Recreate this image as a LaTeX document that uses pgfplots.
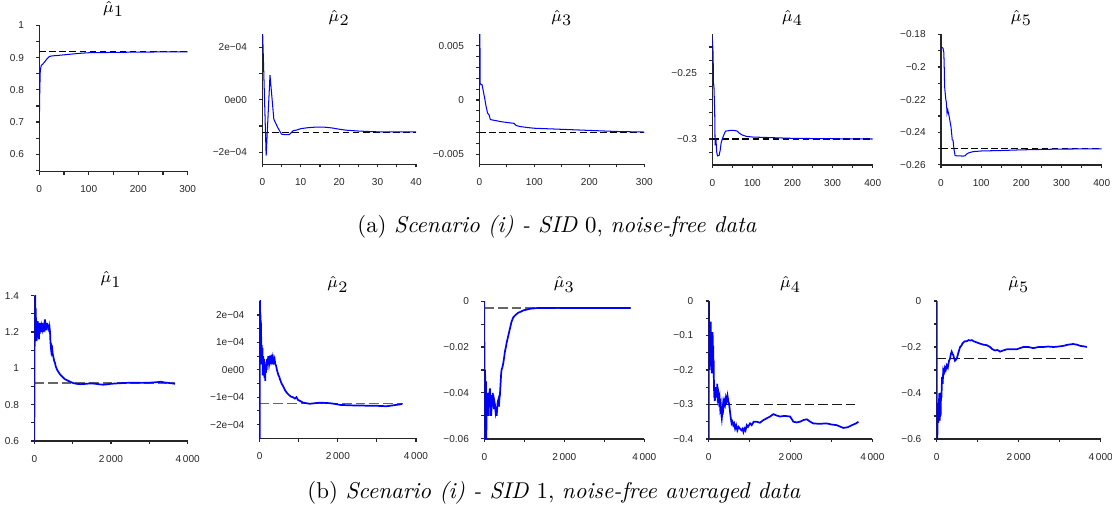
\documentclass[border=0pt]{standalone}
\usepackage{fontspec}
\usepackage{pgfplots}
\pgfplotsset{compat=1.18}
\newfontfamily\hv{Liberation Sans}
\definecolor{rblue}{RGB}{0,0,255}
\pgfplotsset{
 rstyle/.style={
   scale only axis,
   axis x line*=bottom, axis y line*=left,
   axis line style={-, line width=0.5pt, black!85},
   tick align=outside,
   major tick length=1.4pt, minor tick length=1.4pt,
   every tick/.style={black!85, line width=0.5pt},
   tick label style={font=\hv\fontsize{4.4}{5}\selectfont, text=black!85},
   xticklabel style={yshift=-1.3pt},
   yticklabel style={xshift=-1.8pt},
   scaled ticks=false,
   every axis title/.style={font=\fontsize{7}{8}\selectfont, at={(0.5,1)}, anchor=base, yshift=5.8pt},
   anchor=south west,
 },
 bl/.style={rblue, line width=0.45pt},
 bl2/.style={rblue, line width=0.75pt},
 dsh/.style={black, line width=0.45pt, dash pattern=on 2.9pt off 1.5pt},
 dsh2/.style={black!60, line width=0.6pt, dash pattern=on 4.2pt off 1.8pt},
 dsh3/.style={black!90, line width=0.5pt, dash pattern=on 4.2pt off 1.8pt},
}
\begin{document}
\begin{tikzpicture}
\useasboundingbox (0,0) rectangle (486.5pt,-223.125pt);
% ---------------- Row 1 ----------------
\begin{axis}[rstyle, at={(17.19pt,-75.12pt)}, width=64.93pt, height=64.05pt,
  xmin=0, xmax=300, ymin=0.546, ymax=1.0001,
  xtick={0,100,200,300}, xticklabels={0,100,200,300}, minor xtick={50,150,250},
  ytick={0.6,0.7,0.8,0.9,1}, yticklabels={0.6,0.7,0.8,0.9,1}, minor ytick={0.55,0.65,0.75,0.85,0.95},
  title={$\hat{\mu}_{\textstyle 1}$}]
\addplot[dsh] coordinates {(0,0.92) (300,0.92)};
\addplot[bl] coordinates {(0,0.69) (1,0.80) (2,0.86) (4,0.876) (6,0.878) (10,0.885) (15,0.895) (20,0.903) (25,0.905) (40,0.907) (60,0.91) (80,0.913) (100,0.915) (150,0.916) (200,0.917) (250,0.9175) (300,0.918)};
\end{axis}
\begin{axis}[rstyle, at={(114.76pt,-71.88pt)}, width=67.24pt, height=56.88pt,
  xmin=0, xmax=40, ymin=-2.457, ymax=2.495,
  xtick={0,10,20,30,40}, xticklabels={0,10,20,30,40}, minor xtick={5,15,25,35},
  ytick={-2,0,2}, yticklabels={−2e−04,0e00,2e−04}, minor ytick={-1,1},
  title={$\hat{\mu}_{\textstyle 2}$}]
\addplot[dsh] coordinates {(0,-1.24) (40,-1.24)};
\addplot[bl] coordinates {(0,3.0) (1,-2.13) (2,0.94) (3,-0.74) (4,-1.05) (5,-1.31) (6,-1.33) (7,-1.33) (8,-1.18) (9,-1.15) (10,-1.1) (11,-1.08) (12,-1.06) (14,-1.04) (16,-1.04) (18,-1.07) (20,-1.12) (22,-1.16) (25,-1.19) (28,-1.21) (30,-1.22) (35,-1.22) (40,-1.22)};
\end{axis}
\begin{axis}[rstyle, at={(209.69pt,-71.88pt)}, width=72.19pt, height=56.88pt,
  xmin=0, xmax=300, ymin=-5.92, ymax=6.05,
  xtick={0,100,200,300}, xticklabels={0,100,200,300}, minor xtick={50,150,250},
  ytick={-5,0,5}, yticklabels={−0.005,0,0.005}, minor ytick={-4,-3,-2,-1,1,2,3,4},
  title={$\hat{\mu}_{\textstyle 3}$}]
\addplot[dsh] coordinates {(0,-3) (300,-3)};
\addplot[bl] coordinates {(0,-2.2) (1,8) (1.5,1.5) (5,1.4) (7,0.9) (10,0.1) (12,-0.5) (15,-1.2) (18,-1.4) (20,-1.8) (30,-1.9) (40,-2.0) (55,-2.1) (63,-2.15) (67,-2.35) (75,-2.45) (90,-2.55) (100,-2.6) (150,-2.7) (200,-2.8) (250,-2.9) (300,-2.95)};
\end{axis}
\begin{axis}[rstyle, at={(311.63pt,-72.19pt)}, width=70.18pt, height=57.18pt,
  xmin=0, xmax=400, ymin=-0.3198, ymax=-0.2203,
  xtick={0,100,200,300,400}, xticklabels={0,100,200,300,400}, minor xtick={50,150,250,350},
  ytick={-0.3,-0.25}, yticklabels={−0.3,−0.25}, minor ytick={-0.31,-0.29,-0.28,-0.27,-0.26,-0.24,-0.23},
  title={$\hat{\mu}_{\textstyle 4}$}]
\addplot[dsh] coordinates {(0,-0.3) (400,-0.3)};
\addplot[bl] coordinates {(0,-0.2225) (2,-0.235) (3,-0.259) (4,-0.259) (6,-0.28) (7,-0.3048) (9,-0.2995) (11,-0.31) (13,-0.3129) (17,-0.3125) (20,-0.308) (22,-0.303) (26,-0.299) (30,-0.296) (33,-0.294) (45,-0.2935) (55,-0.2935) (62,-0.294) (67,-0.2955) (75,-0.297) (85,-0.298) (100,-0.2985) (150,-0.299) (200,-0.2995) (300,-0.2998) (400,-0.3)};
\end{axis}
\begin{axis}[rstyle, at={(411.69pt,-72.19pt)}, width=70.31pt, height=57.18pt,
  xmin=0, xmax=400, ymin=-0.2601, ymax=-0.1799,
  xtick={0,100,200,300,400}, xticklabels={0,100,200,300,400}, minor xtick={50,150,250,350},
  ytick={-0.26,-0.24,-0.22,-0.2,-0.18}, yticklabels={−0.26,−0.24,−0.22,−0.2,−0.18}, minor ytick={-0.25,-0.23,-0.21,-0.19},
  title={$\hat{\mu}_{\textstyle 5}$}]
\addplot[dsh] coordinates {(0,-0.25) (400,-0.25)};
\addplot[bl] coordinates {(0,-0.1876) (3,-0.188) (5,-0.1885) (7,-0.191) (8,-0.2) (9,-0.212) (10,-0.215) (12,-0.22) (13,-0.2212) (14,-0.224) (15,-0.2284) (17,-0.2265) (20,-0.23) (25,-0.237) (28,-0.2447) (30,-0.245) (32,-0.25) (35,-0.2543) (40,-0.2545) (55,-0.2546) (60,-0.2545) (63,-0.2535) (70,-0.2525) (80,-0.2519) (100,-0.2515) (150,-0.2512) (200,-0.2508) (300,-0.2503) (400,-0.2502)};
\end{axis}
\node[font=\fontsize{10}{12}\selectfont] at (243.7pt,-99.3pt) {(a) \textit{Scenario (i) - SID} 0, \textit{noise-free data}};
% ---------------- Row 2 ----------------
\begin{axis}[rstyle, at={(15.01pt,-192.94pt)}, width=67.11pt, height=63.57pt,
  xmin=0, xmax=4000, ymin=0.5999, ymax=1.4001,
  xtick={0,2000,4000}, xticklabels={0,2\,000,4\,000}, minor xtick={1000,3000},
  ytick={0.6,0.8,1,1.2,1.4}, yticklabels={0.6,0.8,1,1.2,1.4}, minor ytick={0.7,0.9,1.1,1.3},
  title={$\hat{\mu}_{\textstyle 1}$}]
\addplot[dsh2] coordinates {(0,0.92) (3670,0.92)};
\addplot[bl2] coordinates {(0,0.6) (5,0.9) (10,1.2) (15,1.38) (20,1.3) (25,1.42) (30,1.25) (35,1.33) (40,1.18) (45,1.28) (50,1.2) (55,1.25) (60,1.15) (70,1.22) (80,1.17) (90,1.26) (100,1.2) (110,1.25) (120,1.16) (130,1.22) (140,1.19) (150,1.25) (160,1.21) (170,1.24) (180,1.2) (190,1.23) (200,1.22) (210,1.25) (220,1.21) (230,1.24) (240,1.2) (250,1.22) (260,1.24) (270,1.23) (280,1.27) (290,1.23) (300,1.25) (310,1.21) (320,1.24) (330,1.22) (340,1.25) (350,1.22) (360,1.24) (370,1.21) (380,1.23) (390,1.2) (400,1.22) (410,1.2) (420,1.15) (430,1.12) (440,1.1) (450,1.11) (460,1.09) (470,1.1) (480,1.08) (500,1.06) (520,1.04) (540,1.03) (560,1.01) (580,1.0) (600,0.99) (630,0.98) (660,0.97) (700,0.96) (750,0.95) (800,0.94) (850,0.935) (900,0.93) (950,0.925) (1000,0.92) (1100,0.915) (1200,0.913) (1300,0.914) (1400,0.916) (1500,0.917) (1600,0.915) (1700,0.912) (1800,0.91) (1900,0.912) (2000,0.915) (2200,0.918) (2400,0.92) (2600,0.921) (2800,0.92) (3000,0.921) (3200,0.924) (3300,0.926) (3400,0.922) (3500,0.92) (3670,0.915)};
\end{axis}
\begin{axis}[rstyle, at={(113.62pt,-191.76pt)}, width=68.38pt, height=60.2pt,
  xmin=0, xmax=4000, ymin=-2.5, ymax=2.52,
  xtick={0,2000,4000}, xticklabels={0,2\,000,4\,000}, minor xtick={1000,3000},
  ytick={-2,-1,0,1,2}, yticklabels={−2e−04,−1e−04,0e00,1e−04,2e−04}, minor ytick={-1.5,-0.5,0.5,1.5},
  title={$\hat{\mu}_{\textstyle 2}$}]
\addplot[dsh2] coordinates {(0,-1.24) (3670,-1.24)};
\addplot[bl2] coordinates {(0,-3) (8,2.6) (15,1.5) (20,2.0) (25,0.8) (30,1.8) (35,0.5) (40,1.2) (45,0.2) (50,0.9) (60,0.3) (70,0.8) (80,-0.2) (90,0.5) (100,0.0) (110,0.4) (120,-0.3) (130,0.2) (140,-0.4) (150,0.1) (160,-0.1) (170,0.3) (180,0.0) (190,0.4) (200,0.2) (220,0.5) (240,0.2) (260,0.4) (280,0.3) (300,0.55) (320,0.2) (340,0.45) (360,0.3) (380,0.4) (400,0.2) (420,0.15) (440,0.0) (460,-0.1) (480,-0.2) (500,-0.25) (520,-0.35) (560,-0.5) (600,-0.6) (650,-0.75) (700,-0.85) (750,-0.92) (800,-0.98) (850,-1.0) (900,-1.05) (940,-1.0) (980,-1.1) (1050,-1.15) (1110,-1.2) (1200,-1.22) (1280,-1.24) (1400,-1.22) (1540,-1.2) (1700,-1.21) (1800,-1.22) (1950,-1.25) (2050,-1.28) (2200,-1.29) (2390,-1.3) (2550,-1.3) (2730,-1.31) (2900,-1.31) (3100,-1.32) (3240,-1.33) (3400,-1.3) (3550,-1.27) (3650,-1.25)};
\end{axis}
\begin{axis}[rstyle, at={(211.88pt,-192.06pt)}, width=70pt, height=60.38pt,
  xmin=0, xmax=4000, ymin=-0.0601, ymax=0.0001,
  xtick={0,2000,4000}, xticklabels={0,2\,000,4\,000}, minor xtick={1000,3000},
  ytick={-0.06,-0.04,-0.02,0}, yticklabels={−0.06,−0.04,−0.02,0}, minor ytick={-0.05,-0.03,-0.01},
  title={$\hat{\mu}_{\textstyle 3}$}]
\addplot[dsh2] coordinates {(0,-0.003) (3670,-0.003)};
\addplot[bl2] coordinates {(0,0) (8,-0.065) (20,-0.03) (30,-0.055) (40,-0.035) (50,-0.06) (60,-0.042) (70,-0.05) (80,-0.04) (90,-0.048) (100,-0.045) (110,-0.05) (120,-0.042) (140,-0.038) (150,-0.044) (160,-0.041) (170,-0.05) (180,-0.047) (190,-0.043) (200,-0.046) (210,-0.04) (225,-0.042) (240,-0.047) (255,-0.044) (265,-0.045) (280,-0.048) (295,-0.046) (310,-0.05) (320,-0.047) (335,-0.044) (350,-0.043) (365,-0.046) (380,-0.042) (390,-0.041) (400,-0.038) (410,-0.035) (420,-0.032) (430,-0.03) (450,-0.029) (475,-0.027) (500,-0.024) (515,-0.022) (540,-0.02) (560,-0.018) (600,-0.015) (640,-0.012) (680,-0.009) (725,-0.007) (780,-0.006) (850,-0.005) (920,-0.0045) (975,-0.004) (1050,-0.0037) (1140,-0.0033) (1310,-0.003) (1500,-0.003) (1810,-0.0029) (2500,-0.003) (3000,-0.003) (3650,-0.003)};
\end{axis}
\begin{axis}[rstyle, at={(310.06pt,-192.06pt)}, width=71.58pt, height=60.38pt,
  xmin=0, xmax=4000, ymin=-0.4001, ymax=0.0001,
  xtick={0,2000,4000}, xticklabels={0,2\,000,4\,000}, minor xtick={1000,3000},
  ytick={-0.4,-0.3,-0.2,-0.1,0}, yticklabels={−0.4,−0.3,−0.2,−0.1,0}, minor ytick={-0.35,-0.25,-0.15,-0.05},
  title={$\hat{\mu}_{\textstyle 4}$}]
\addplot[dsh3] coordinates {(0,-0.3) (3660,-0.3)};
\addplot[bl2] coordinates {(0,-0.4) (5,0) (10,-0.05) (15,-0.2) (20,-0.1) (25,-0.18) (30,-0.12) (35,-0.17) (40,-0.08) (45,-0.13) (50,-0.06) (55,-0.15) (60,-0.1) (65,-0.2) (70,-0.14) (75,-0.21) (80,-0.12) (85,-0.18) (90,-0.09) (95,-0.15) (100,-0.1) (105,-0.19) (110,-0.13) (115,-0.2) (120,-0.17) (125,-0.22) (130,-0.25) (135,-0.28) (140,-0.27) (150,-0.29) (160,-0.26) (170,-0.28) (180,-0.25) (195,-0.27) (210,-0.24) (220,-0.28) (235,-0.27) (250,-0.29) (265,-0.28) (280,-0.31) (295,-0.3) (310,-0.33) (320,-0.34) (335,-0.32) (350,-0.3) (360,-0.31) (380,-0.29) (400,-0.3) (420,-0.28) (440,-0.29) (460,-0.275) (480,-0.29) (500,-0.3) (520,-0.32) (540,-0.34) (560,-0.355) (580,-0.35) (600,-0.36) (620,-0.355) (645,-0.37) (670,-0.36) (700,-0.375) (730,-0.365) (765,-0.37) (800,-0.375) (830,-0.37) (850,-0.38) (880,-0.37) (900,-0.375) (930,-0.36) (960,-0.365) (1010,-0.355) (1050,-0.36) (1100,-0.35) (1175,-0.35) (1250,-0.353) (1340,-0.345) (1420,-0.34) (1500,-0.335) (1580,-0.328) (1660,-0.332) (1745,-0.335) (1850,-0.333) (1990,-0.335) (2070,-0.35) (2150,-0.352) (2230,-0.35) (2320,-0.345) (2400,-0.343) (2480,-0.35) (2560,-0.355) (2700,-0.356) (2885,-0.355) (3000,-0.358) (3130,-0.36) (3290,-0.368) (3400,-0.366) (3500,-0.36) (3600,-0.355) (3660,-0.35)};
\end{axis}
\begin{axis}[rstyle, at={(409.81pt,-192.06pt)}, width=71.75pt, height=60.38pt,
  xmin=0, xmax=4000, ymin=-0.6001, ymax=0.0001,
  xtick={0,2000,4000}, xticklabels={0,2\,000,4\,000}, minor xtick={1000,3000},
  ytick={-0.6,-0.4,-0.2,0}, yticklabels={−0.6,−0.4,−0.2,0}, minor ytick={-0.5,-0.3,-0.1},
  title={$\hat{\mu}_{\textstyle 5}$}]
\addplot[dsh3] coordinates {(0,-0.25) (3660,-0.25)};
\addplot[bl2] coordinates {(0,0) (5,-0.6) (15,-0.6) (25,-0.45) (40,-0.53) (50,-0.45) (65,-0.4) (75,-0.52) (85,-0.45) (95,-0.5) (105,-0.4) (115,-0.42) (130,-0.33) (145,-0.36) (160,-0.3) (180,-0.31) (200,-0.29) (220,-0.3) (245,-0.28) (270,-0.29) (300,-0.26) (325,-0.25) (345,-0.23) (365,-0.22) (385,-0.23) (405,-0.235) (425,-0.25) (445,-0.26) (470,-0.255) (490,-0.25) (520,-0.23) (545,-0.215) (570,-0.2) (600,-0.195) (625,-0.185) (650,-0.18) (690,-0.175) (730,-0.175) (780,-0.17) (820,-0.172) (855,-0.17) (900,-0.175) (975,-0.18) (1050,-0.185) (1140,-0.19) (1220,-0.192) (1300,-0.2) (1360,-0.21) (1420,-0.215) (1480,-0.213) (1545,-0.22) (1620,-0.215) (1710,-0.21) (1800,-0.21) (1950,-0.21) (2030,-0.205) (2115,-0.2) (2230,-0.2) (2360,-0.205) (2480,-0.2) (2600,-0.2) (2720,-0.198) (2845,-0.2) (2970,-0.198) (3090,-0.195) (3200,-0.19) (3330,-0.187) (3420,-0.19) (3500,-0.195) (3580,-0.197) (3660,-0.2)};
\end{axis}
\node[font=\fontsize{10}{12}\selectfont] at (242.4pt,-215.7pt) {(b) \textit{Scenario (i) - SID} 1, \textit{noise-free averaged data}};
\end{tikzpicture}
\end{document}
